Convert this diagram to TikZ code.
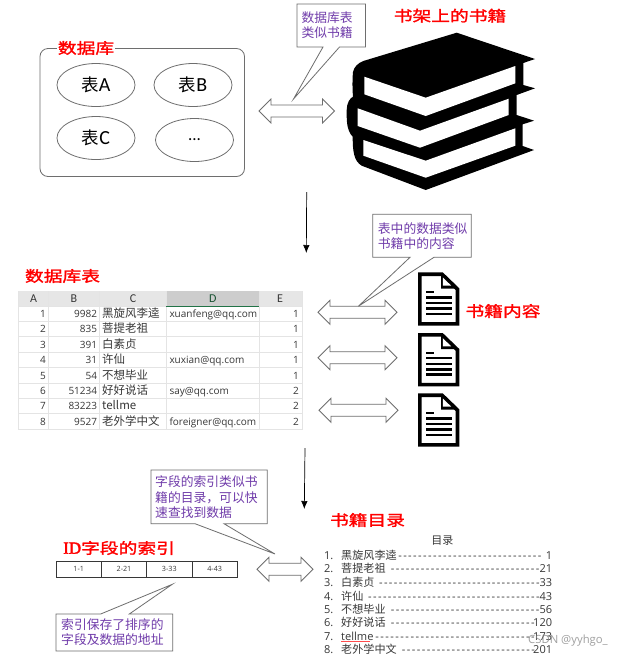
\documentclass[tikz,border=0pt]{standalone}
\usepackage{fontspec}
\setmainfont{Open Sans}
\newfontfamily\cjk{Noto Sans CJK SC}
\newfontfamily\latf{Open Sans}
\newfontfamily\calb{Carlito}
\newfontfamily\serifb[FakeBold=2]{Liberation Serif}
\newfontfamily\titlefont[FakeStretch=1.25,FakeBold=1.5]{Noto Sans CJK SC}
\newcommand{\fsz}[1]{\fontsize{#1}{#1}\selectfont}
\definecolor{noteviolet}{RGB}{112,60,170}
\definecolor{linegray}{RGB}{110,110,110}
\definecolor{gridgray}{RGB}{228,228,228}
\definecolor{textdark}{RGB}{55,55,55}
\definecolor{hdrgray}{RGB}{230,230,230}
\definecolor{hdrsel}{RGB}{205,205,205}
\definecolor{selgreen}{RGB}{33,115,70}
\usetikzlibrary{shapes.geometric,arrows.meta}
\tikzset{
  x=1pt,y=-1pt,
  thin line/.style={draw=linegray,line width=0.8pt},
  titlered/.style={text=red,inner sep=0pt,font=\titlefont\fsz{15}},
  notetext/.style={text=noteviolet,inner sep=0pt,anchor=base west,font=\cjk\fsz{12.8}},
  callout/.style={thin line,fill=white},
  ovalnode/.style={thin line,ellipse,minimum width=78pt,minimum height=43pt,inner sep=0pt},
  dbl/.style={thin line,fill=white,line join=miter},
  cell/.style={text=textdark,inner sep=0pt,font=\latf\fsz{10}},
  ccell/.style={text=textdark,inner sep=0pt,font=\cjk\fsz{11.5}},
  hdr/.style={text=textdark,inner sep=0pt,font=\calb\fsz{12}},
  idx/.style={text=textdark,inner sep=0pt,font=\latf\fsz{7.2}},
  toc/.style={text=textdark,inner sep=0pt,anchor=base west,font=\cjk\fsz{11.1}},
  tocnum/.style={text=textdark,inner sep=0pt,anchor=base east,font=\latf\fsz{11}},
  downarrow/.style={-{Latex[length=8pt,width=6.5pt]},draw=black,line width=0.7pt},
}
% left, right, y
\newcommand{\dblarrow}[3]{%
  \draw[dbl] (#1,#3) -- (#1+12,#3-12) -- (#1+12,#3-6) -- (#2-12,#3-6) -- (#2-12,#3-12)
   -- (#2,#3) -- (#2-12,#3+12) -- (#2-12,#3+6) -- (#1+12,#3+6) -- (#1+12,#3+12) -- cycle;}
% dy
\newcommand{\docicon}[1]{%
  \fill[black,even odd rule] (418,272.3+#1) -- (442.7,272.3+#1) -- (459.3,288.3+#1) -- (459.3,325.7+#1) -- (418,325.7+#1) -- cycle
     (421.7,276+#1) -- (421.7,322.2+#1) -- (455.7,322.2+#1) -- (455.7,290+#1) -- (441,276+#1) -- cycle;
  \fill[black] (441,274+#1) -- (441,288.5+#1) -- (458,288.5+#1) -- cycle;
  \fill[white] (442.8,277.5+#1) -- (442.8,285.6+#1) -- (451.2,285.6+#1) -- cycle;
  \fill[black] (426,291+#1) rectangle (434.3,293.3+#1);
  \foreach \yy in {296.3,302,307.4,312.7} {\fill[black] (426,\yy+#1) rectangle (451.7,\yy+2.4+#1);}
}
\newcommand{\tocline}[6]{%
  \pgfmathsetmacro{\tocw}{#4-#3}%
  \node[tocnum,anchor=base west] (tn#1) at (324,#6) {#1.};
  \node[toc] (tt#1) at (341,#6) {#2};
  \node[toc,font=\latf\fsz{11}] (td#1) at (#3,#6) {\hbox to \tocw pt{\xleaders\hbox to 4.9pt{\hss-\hss}\hfill}};
  \node[tocnum] (tp#1) at (552.3,#6) {#5};
}
\begin{document}
\begin{tikzpicture}
\useasboundingbox (0,0) rectangle (621,657);
\fill[white] (0,0) rectangle (621,657);

% --- database box
\draw[thin line,rounded corners=8pt] (40,48.5) rectangle (244.5,176.5);
\node[titlered,fill=white,inner xsep=1pt,inner ysep=0pt] (dbtitle) at (86,48) {数据库};
\node[ovalnode] (tA) at (96,85) {{\cjk\fsz{17.5}表}{\calb\fsz{20}A}};
\node[ovalnode] (tB) at (193,85) {{\cjk\fsz{17.5}表}{\calb\fsz{20}B}};
\node[ovalnode] (tC) at (96,138) {{\cjk\fsz{17.5}表}{\calb\fsz{20}C}};
\node[ovalnode] (tD) at (194.5,140) {{\calb\fsz{17}...}};

% --- double arrows
\dblarrow{259}{334.5}{111}
\dblarrow{318}{397}{312.3}
\dblarrow{318}{397}{357.7}
\dblarrow{319}{398}{410.3}
\dblarrow{257}{313}{569.3}

% --- callouts
\draw[callout] (297,4) -- (365.5,4) -- (365.5,47) -- (339.5,47) -- (293.5,99) -- (323,47) -- (297,47) -- cycle;
\node[notetext] (n1a) at (301.3,22) {数据库表};
\node[notetext] (n1b) at (301.3,37.3) {类似书籍};
\draw[callout] (372.7,214.3) -- (471.3,214.3) -- (471.3,257.3) -- (434,257.3) -- (358.3,306.3) -- (410,257.3) -- (372.7,257.3) -- cycle;
\node[notetext] (n2a) at (377.7,233) {表中的数据类似};
\node[notetext] (n2b) at (377.7,248) {书籍中的内容};
\draw[callout] (151,470) -- (267.3,470) -- (267.3,523.7) -- (224,523.7) -- (275,554) -- (195,523.7) -- (151,523.7) -- cycle;
\node[notetext] (n3a) at (155,486) {字段的索引类似书};
\node[notetext] (n3b) at (155,502) {籍的目录，可以快};
\node[notetext] (n3c) at (155,517.5) {速查找到数据};
\draw[callout] (56,614) -- (100.7,614) -- (172.3,584.3) -- (129.3,614) -- (172.7,614) -- (172.7,651) -- (56,651) -- cycle;
\node[notetext] (n4a) at (61,629.7) {索引保存了排序的};
\node[notetext] (n4b) at (61,644) {字段及数据的地址};

% --- titles
\node[titlered] (t1) at (450,15.7) {书架上的书籍};
\node[titlered] (t2) at (62.5,276) {数据库表};
\node[titlered] (t3) at (503,311) {书籍内容};
\node[titlered] (t4) at (367.5,520) {书籍目录};
\node[titlered,anchor=west] (t5) at (63,548) {{\serifb\fsz{17}ID}字段的索引};

% --- books
\fill[black] (456.7,32.7) -- (535,59) -- (523.3,63) -- (523.3,85) -- (535,88.3) -- (516.7,95) -- (516.7,115)
  -- (534,120.7) -- (522.7,124.3) -- (522.7,146) -- (534,150) -- (425.7,190) -- (361.7,165.7)
  .. controls (354,161) and (352.7,152) .. (352.7,136.7) .. controls (346,130) and (346.7,118) .. (346.7,110)
  .. controls (346.7,103) and (350,98) .. (353,96.7) .. controls (352,85) and (352.7,75) .. (353,72)
  .. controls (354,67) and (358,63) .. (363.3,61) -- cycle;
\fill[white] (364.3,76.7) -- (425.7,97.7) -- (515.3,66) -- (515.3,83.3) -- (425.7,116) -- (364.3,94.3) -- cycle;
\fill[white] (357.7,108.3) -- (420,130.7) -- (508.7,98.7) -- (508.7,115) -- (420,147.7) -- (357.7,126) -- cycle;
\fill[white] (363.3,140) -- (425.7,160.7) -- (515.3,128.3) -- (515.3,145.7) -- (425.7,177.7) -- (363.3,155.7) -- cycle;

% --- documents
\docicon{0}
\docicon{60.7}
\docicon{121}

% --- down arrows
\coordinate (d1s) at (306.7,192);
\coordinate (d1e) at (306.3,253);
\coordinate (d2s) at (305,448);
\coordinate (d2e) at (304.3,509);
\draw[downarrow] (d1s) -- (d1e);
\draw[downarrow] (d2s) -- (d2e);

% --- spreadsheet
\fill[hdrgray] (18.3,291) rectangle (302.7,306);
\fill[hdrsel] (166.3,291) rectangle (259,306);
\foreach \xx in {18.3,48.7,99.3,166.3,259,302.7} {\draw[gridgray,line width=0.7pt] (\xx,291) -- (\xx,429);}
\foreach \yy in {306,321.4,336.8,352.1,367.5,382.9,398.3,413.6,429} {\draw[gridgray,line width=0.7pt] (18.3,\yy) -- (302.7,\yy);}
\draw[selgreen,line width=0.9pt] (166.3,306) -- (259,306);
\node[hdr] (hA) at (33.5,299) {A};
\node[hdr] (hB) at (74,299) {B};
\node[hdr] (hC) at (133,299) {C};
\node[hdr,text=selgreen!70!black] (hD) at (212.7,299) {D};
\node[hdr] (hE) at (280,299) {E};
\foreach \vn/\vb/\vc/\vd/\ve in {1/9982/黑旋风李逵/xuanfeng@qq.com/1,2/835/菩提老祖//1,3/391/白素贞//1,4/31/许仙/xuxian@qq.com/1,5/54/不想毕业//1,6/51234/好好说话/say@qq.com/2,7/83223/tellme//2,8/9527/老外学中文/foreigner@qq.com/2}{
  \pgfmathsetmacro{\by}{306+15.375*(\vn-1)+11.6}
  \node[cell,anchor=base east] (ra\vn) at (46,\by) {\vn};
  \node[cell,anchor=base east] (rb\vn) at (97.3,\by) {\vb};
  \node[ccell,anchor=base west] (rc\vn) at (102,\by) {\vc};
  \node[cell,anchor=base west] (rd\vn) at (169.3,\by) {\vd};
  \node[cell,anchor=base east] (re\vn) at (299,\by) {\ve};
}

% --- index bar
\draw[thin line,draw=textdark] (56,561.3) rectangle (237.3,577);
\foreach \xx in {101.3,146.7,192} {\draw[textdark,line width=0.8pt] (\xx,561.3) -- (\xx,577);}
\node[idx] (i1) at (78.7,569) {1-1};
\node[idx] (i2) at (124,569) {2-21};
\node[idx] (i3) at (169.3,569) {3-33};
\node[idx] (i4) at (214.7,569) {4-43};

% --- table of contents
\node[text=textdark,inner sep=0pt,font=\cjk\fsz{11}] (toc) at (442.3,541) {目录};
\tocline{1}{黑旋风李逵}{397.3}{542}{1}{559}
\tocline{2}{菩提老祖}{390}{540}{21}{572.7}
\tocline{3}{白素贞}{378.3}{540}{33}{586.3}
\tocline{4}{许仙}{367.3}{540}{43}{600}
\tocline{5}{不想毕业}{390}{540}{56}{613.3}
\tocline{6}{好好说话}{390}{535.3}{120}{626.7}
\tocline{7}{\latf tellme}{374.3}{535.3}{173}{640.3}
\tocline{8}{老外学中文}{401}{535.3}{201}{653.7}
\draw[red!70!white,line width=0.5pt] (341,641) -- (370,641);

% --- watermark
\node[inner sep=0pt,text=gray,opacity=0.75,font=\latf\fsz{11.3},anchor=west] (wm) at (528,641) {CSDN @yyhgo\_};
\end{tikzpicture}
\end{document}
